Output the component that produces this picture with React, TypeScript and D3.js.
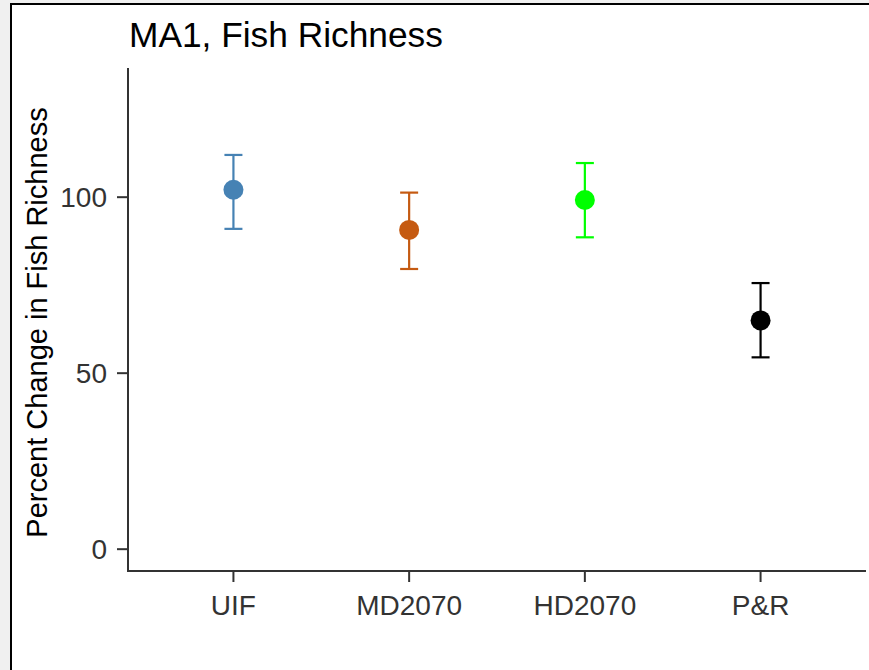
import React from "react";
import * as d3 from "d3";

const categories = ["UIF", "MD2070", "HD2070", "P&R"];
const means = [102.1, 90.7, 99.2, 65.0];
const lowers = [91.0, 79.6, 88.6, 54.5];
const uppers = [112.0, 101.3, 109.7, 75.6];
const colors = ["#4682B4", "#C55A11", "#00FF00", "#000000"];
const yTicks = [0, 50, 100];
const title = "MA1, Fish Richness";
const yTitle = "Percent Change in Fish Richness";

const W = 869;
const H = 670;
const left = 128;
const right = 866;
const top = 68;
const bottom = 571;

export default function App() {
  const x = d3
    .scalePoint<string>()
    .domain(categories)
    .range([left, right])
    .padding(0.6);
  const y = d3.scaleLinear().domain([-6.2, 136.7]).range([bottom, top]);
  const font = "'Liberation Sans', Arial, sans-serif";
  const axisColor = "#333333";
  return (
    <svg
      width={W}
      height={H}
      style={{ position: "absolute", left: 0, top: 0, display: "block" }}
      fontFamily={font}
    >
      <rect x={0} y={0} width={W} height={H} fill="#f0f0f0" />
      <rect x={10} y={3} width={W - 10} height={H - 3} fill="#ffffff" />
      <line x1={11} y1={3} x2={11} y2={H} stroke="#000" strokeWidth={2} />
      <line x1={10} y1={4} x2={W} y2={4} stroke="#000" strokeWidth={2} />

      <text x={129} y={46.5} fontSize={35.3} fill="#000">
        {title}
      </text>

      <line x1={left} y1={top} x2={left} y2={bottom} stroke={axisColor} strokeWidth={2} />
      <line x1={left - 1} y1={bottom} x2={right} y2={bottom} stroke={axisColor} strokeWidth={2} />

      {yTicks.map((t) => (
        <g key={t}>
          <line x1={left - 11} x2={left} y1={y(t)} y2={y(t)} stroke={axisColor} strokeWidth={2} />
          <text
            x={left - 21}
            y={y(t)}
            dy="0.36em"
            textAnchor="end"
            fontSize={28}
            fill="#333333"
          >
            {t}
          </text>
        </g>
      ))}

      {categories.map((c) => (
        <g key={c}>
          <line x1={x(c)} x2={x(c)} y1={bottom} y2={bottom + 11} stroke={axisColor} strokeWidth={2} />
          <text
            x={x(c)}
            y={615}
            textAnchor="middle"
            fontSize={28}
            fill="#333333"
          >
            {c}
          </text>
        </g>
      ))}

      <text
        transform={`translate(47, ${(107 + 538) / 2}) rotate(-90)`}
        textAnchor="middle"
        fontSize={29}
        fill="#000"
      >
        {yTitle}
      </text>

      {categories.map((c, i) => {
        const cx = x(c) as number;
        return (
          <g key={c} stroke={colors[i]} strokeWidth={2.2}>
            <line x1={cx} x2={cx} y1={y(lowers[i])} y2={y(uppers[i])} />
            <line x1={cx - 9} x2={cx + 9} y1={y(uppers[i])} y2={y(uppers[i])} />
            <line x1={cx - 9} x2={cx + 9} y1={y(lowers[i])} y2={y(lowers[i])} />
            <circle cx={cx} cy={y(means[i])} r={10} fill={colors[i]} stroke="none" />
          </g>
        );
      })}
    </svg>
  );
}
